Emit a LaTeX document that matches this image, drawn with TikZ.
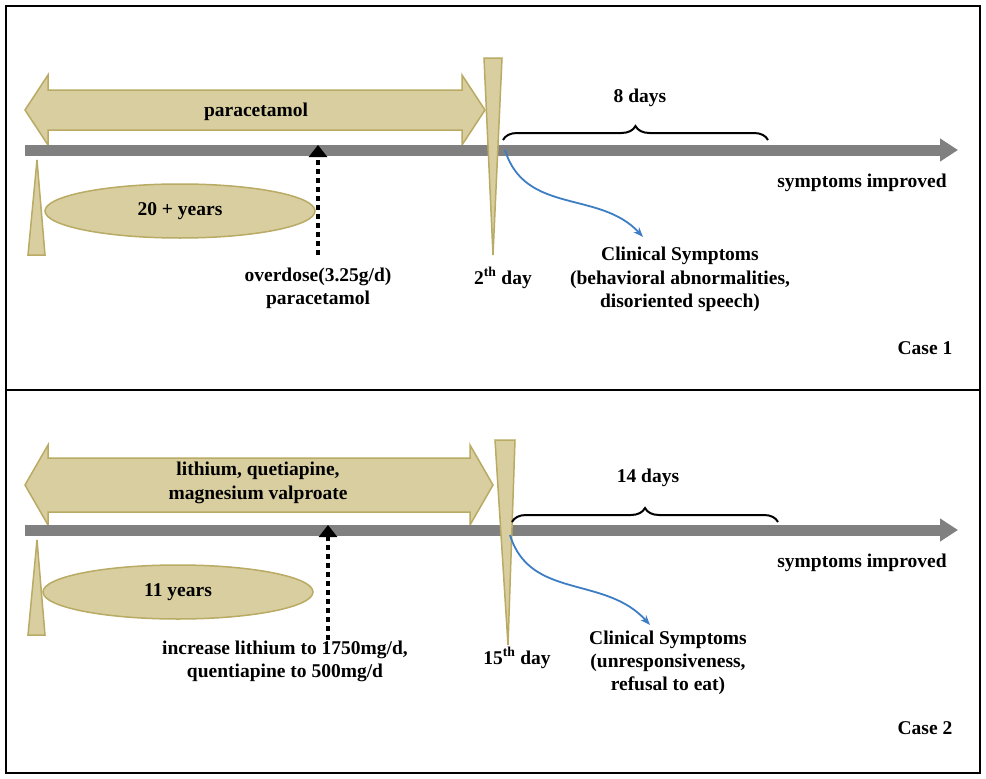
\documentclass[tikz,border=0pt]{standalone}
\usepackage{fontspec}
\setmainfont{Liberation Serif}
\usetikzlibrary{decorations.pathreplacing,arrows.meta}
\definecolor{khaki}{RGB}{216,206,160}
\definecolor{khakid}{RGB}{185,170,100}
\definecolor{tl}{RGB}{128,128,128}
\definecolor{bl}{RGB}{60,125,195}
\begin{document}
\begin{tikzpicture}[x=1pt,y=-1pt,
 txt/.style={font=\bfseries\fontsize{19.5}{22}\selectfont,inner sep=0pt},
 shp/.style={fill=khaki,draw=khakid,line width=1.5pt},
 timeline/.style={draw=tl,line width=11pt,-{Triangle[length=18pt,width=22pt]}},
 dots/.style={draw=black,line width=4.5pt,dash pattern=on 5pt off 4pt,-{Triangle[length=12pt,width=18pt]}},
 blarrow/.style={draw=bl,line width=1.8pt,-{Stealth[length=10pt]}},
 brace/.style={draw=black,line width=2pt,decorate,decoration={brace,amplitude=14pt}}]
\useasboundingbox (0,0) rectangle (986,779);
\draw[line width=1.5pt] (6,6) rectangle (980,773);
\draw[line width=1.5pt] (6,390) -- (980,390);
% Case 1
\draw[shp] (25,110)--(48,75)--(48,90)--(462,90)--(462,75)--(485,110)--(462,145)--(462,130)--(48,130)--(48,145)--cycle;
\node[txt] (p1) at (256,112) {paracetamol};
\coordinate (a1) at (25,150); \coordinate (b1) at (958,150);
\draw[timeline] (a1) -- (b1);
\draw[shp] (37,160)--(45,255)--(28,255)--cycle;
\draw[shp] (484,58)--(502,58)--(493,255)--cycle;
\draw[shp] (180,211) ellipse[x radius=135,y radius=27];
\node[txt] (e1) at (180,211) {20 + years};
\coordinate (d1s) at (318,255); \coordinate (d1e) at (318,145);
\draw[dots] (d1s) -- (d1e);
\node[txt] (o1) at (318,277) {overdose(3.25g/d)};
\node[txt] (o2) at (318,300) {paracetamol};
\node[txt] (day1) at (503,278) {2\textsuperscript{th} day};
\coordinate (br1a) at (503,140); \coordinate (br1b) at (768,140);
\draw[brace] (br1a) -- (br1b);
\node[txt] (n8) at (640,98) {8 days};
\coordinate (c1s) at (505,150); \coordinate (c1e) at (643,237);
\draw[blarrow] (c1s) .. controls (525,215) and (600,190) .. (c1e);
\node[txt] (cs1) at (680,256) {Clinical Symptoms};
\node[txt] (cs2) at (680,280) {(behavioral abnormalities,};
\node[txt] (cs3) at (680,303) {disoriented speech)};
\node[txt] (si1) at (862,183) {symptoms improved};
\node[txt] (c1) at (925,348) {Case 1};
% Case 2
\draw[shp] (25,485)--(48,445)--(48,458)--(470,458)--(470,445)--(493,485)--(470,525)--(470,512)--(48,512)--(48,525)--cycle;
\node[txt] (l1) at (258,471) {lithium, quetiapine,};
\node[txt] (l2) at (258,495) {magnesium valproate};
\coordinate (a2) at (25,530); \coordinate (b2) at (958,530);
\draw[timeline] (a2) -- (b2);
\draw[shp] (37,540)--(45,635)--(28,635)--cycle;
\draw[shp] (495,440)--(515,440)--(508,645)--cycle;
\draw[shp] (178,592) ellipse[x radius=135,y radius=27];
\node[txt] (e2) at (178,592) {11 years};
\coordinate (d2s) at (328,640); \coordinate (d2e) at (328,525);
\draw[dots] (d2s) -- (d2e);
\node[txt] (i1) at (285,650) {increase lithium to 1750mg/d,};
\node[txt] (i2) at (285,673) {quentiapine to 500mg/d};
\node[txt] (day2) at (517,658) {15\textsuperscript{th} day};
\coordinate (br2a) at (512,522); \coordinate (br2b) at (778,522);
\draw[brace] (br2a) -- (br2b);
\node[txt] (n14) at (648,478) {14 days};
\coordinate (c2s) at (510,535); \coordinate (c2e) at (650,625);
\draw[blarrow] (c2s) .. controls (530,600) and (605,575) .. (c2e);
\node[txt] (ds1) at (668,640) {Clinical Symptoms};
\node[txt] (ds2) at (668,663) {(unresponsiveness,};
\node[txt] (ds3) at (668,686) {refusal to eat)};
\node[txt] (si2) at (862,563) {symptoms improved};
\node[txt] (c2) at (925,728) {Case 2};
\end{tikzpicture}
\end{document}
